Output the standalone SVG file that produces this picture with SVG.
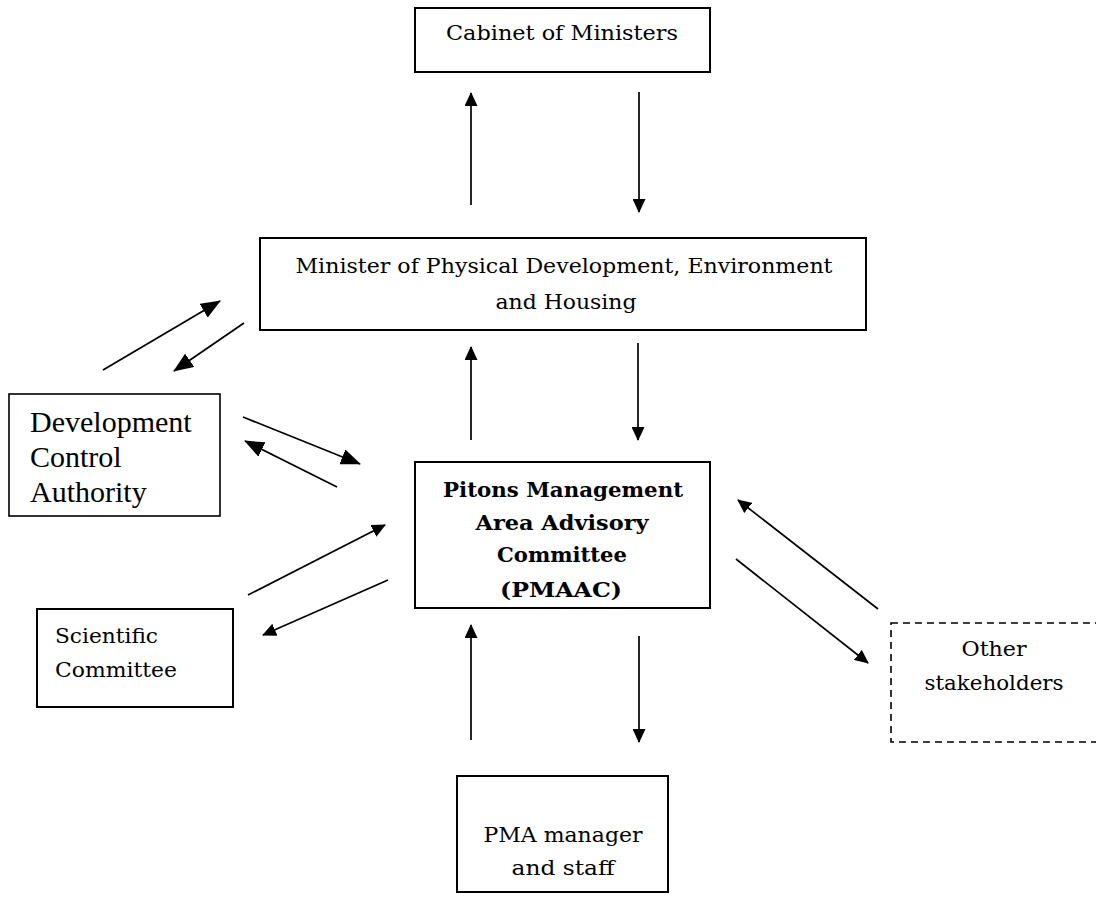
<svg xmlns="http://www.w3.org/2000/svg" width="1096" height="902" viewBox="0 0 1096 902">
<style>
.box{fill:#fff;stroke:#000;stroke-width:2}
.dash{fill:#fff;stroke:#000;stroke-width:1.6;stroke-dasharray:7 5}
.t{font-family:"DejaVu Serif","Liberation Serif",serif;font-size:21px;fill:#000}
.b{font-family:"DejaVu Serif","Liberation Serif",serif;font-size:21px;font-weight:bold;fill:#000}
.tn{font-family:"Liberation Serif","Times New Roman",serif;font-size:30px;fill:#000}
.c{stroke:#000;stroke-width:1.7;fill:none}
.s{marker-end:url(#ms)}
.g{marker-end:url(#mb)}
</style>
<defs>
<marker id="ms" viewBox="0 0 14 13" refX="13" refY="6.5" markerWidth="14" markerHeight="13" markerUnits="userSpaceOnUse" orient="auto"><path d="M0,0 L14,6.5 L0,13 z" fill="#000"/></marker>
<marker id="mb" viewBox="0 0 20 16" refX="19" refY="8" markerWidth="20" markerHeight="16" markerUnits="userSpaceOnUse" orient="auto"><path d="M0,0 L20,8 L0,16 z" fill="#000"/></marker>
</defs>
<rect width="1096" height="902" fill="#fff"/>
<g id="connectors">
<line class="c s" x1="471" y1="205" x2="471" y2="93"/>
<line class="c s" x1="639" y1="92" x2="639" y2="212"/>
<line class="c s" x1="471" y1="440" x2="471" y2="347"/>
<line class="c s" x1="638" y1="343" x2="638" y2="440"/>
<line class="c s" x1="471" y1="740" x2="471" y2="625"/>
<line class="c s" x1="639" y1="636" x2="639" y2="742"/>
<line class="c g" x1="103" y1="370" x2="220" y2="301"/>
<line class="c g" x1="244" y1="323" x2="174" y2="371"/>
<line class="c g" x1="243" y1="417" x2="360" y2="464"/>
<line class="c g" x1="337" y1="487" x2="245" y2="441"/>
<line class="c s" x1="248" y1="595" x2="385" y2="525"/>
<line class="c s" x1="388" y1="580" x2="263" y2="635"/>
<line class="c s" x1="878" y1="609" x2="738" y2="500"/>
<line class="c s" x1="736" y1="559" x2="868" y2="663"/>
</g>
<g id="cabinet">
<rect class="box" x="415" y="8" width="295" height="64"/>
<text class="t" x="562" y="40" text-anchor="middle" textLength="232" lengthAdjust="spacingAndGlyphs">Cabinet of Ministers</text>
</g>
<g id="minister">
<rect class="box" x="260" y="238" width="606" height="92"/>
<text class="t" x="564" y="273" text-anchor="middle" textLength="537" lengthAdjust="spacingAndGlyphs">Minister of Physical Development, Environment</text>
<text class="t" x="566" y="309" text-anchor="middle" textLength="141" lengthAdjust="spacingAndGlyphs">and Housing</text>
</g>
<g id="dca">
<rect x="9" y="394" width="211" height="122" fill="#fff" stroke="#000" stroke-width="1.6"/>
<text class="tn" x="30" y="432">Development</text>
<text class="tn" x="30" y="467">Control</text>
<text class="tn" x="30" y="502">Authority</text>
</g>
<g id="pmaac">
<rect class="box" x="415" y="462" width="295" height="146"/>
<text class="b" x="563" y="497" text-anchor="middle" textLength="240" lengthAdjust="spacingAndGlyphs">Pitons Management</text>
<text class="b" x="562" y="530" text-anchor="middle" textLength="173" lengthAdjust="spacingAndGlyphs">Area Advisory</text>
<text class="b" x="562" y="562" text-anchor="middle" textLength="130" lengthAdjust="spacingAndGlyphs">Committee</text>
<text class="b" x="561" y="597" text-anchor="middle" textLength="122" lengthAdjust="spacingAndGlyphs">(PMAAC)</text>
</g>
<g id="scientific">
<rect class="box" x="37" y="609" width="196" height="98"/>
<text class="t" x="55" y="643" textLength="103" lengthAdjust="spacingAndGlyphs">Scientific</text>
<text class="t" x="55" y="677" textLength="122" lengthAdjust="spacingAndGlyphs">Committee</text>
</g>
<g id="other">
<rect class="dash" x="891" y="623" width="230" height="119"/>
<text class="t" x="994" y="656" text-anchor="middle" textLength="65" lengthAdjust="spacingAndGlyphs">Other</text>
<text class="t" x="994" y="690" text-anchor="middle" textLength="139" lengthAdjust="spacingAndGlyphs">stakeholders</text>
</g>
<g id="pma">
<rect class="box" x="457" y="776" width="211" height="116"/>
<text class="t" x="563" y="842" text-anchor="middle" textLength="159" lengthAdjust="spacingAndGlyphs">PMA manager</text>
<text class="t" x="563" y="875" text-anchor="middle" textLength="103" lengthAdjust="spacingAndGlyphs">and staff</text>
</g>
</svg>
